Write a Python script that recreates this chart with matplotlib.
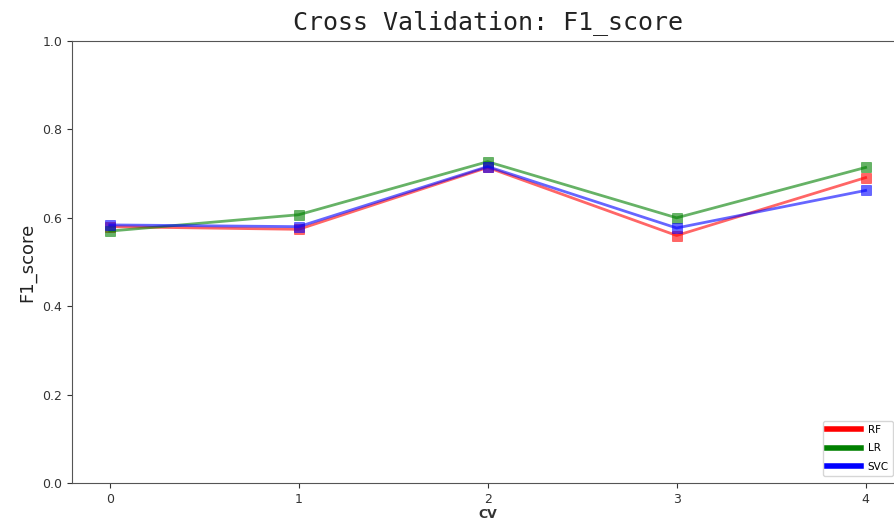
import matplotlib
matplotlib.use("Agg")
import matplotlib.pyplot as plt

folds = [0, 1, 2, 3, 4]
rf_scores = [0.580, 0.574, 0.714, 0.560, 0.691]
lr_scores = [0.570, 0.607, 0.727, 0.600, 0.714]
svc_scores = [0.584, 0.580, 0.716, 0.577, 0.662]

fig = plt.figure(figsize=(8.94, 5.23), dpi=100)
ax = fig.add_axes([0.0805, 0.0765, 0.93, 0.845])

for scores, color, name in [(rf_scores, "red", "RF"),
                            (lr_scores, "green", "LR"),
                            (svc_scores, "blue", "SVC")]:
    ax.plot(folds, scores, color=color, alpha=0.6, linewidth=2,
            marker="s", markersize=6.5, markeredgewidth=0.5,
            markerfacecolor=color, label=name)

ax.set_ylim(0, 1.0)
ax.set_xticks(folds)
ax.set_yticks([0.0, 0.2, 0.4, 0.6, 0.8, 1.0])
ax.tick_params(labelsize=9, colors="#333333")
for side in ax.spines.values():
    side.set_color("#555555")

ax.set_title("Cross Validation: F1_score", fontsize=18,
             family="DejaVu Sans Mono", color="#222222", pad=9)
ax.set_ylabel("F1_score", fontsize=13, color="#222222")
ax.set_xlabel("CV", fontsize=9, fontweight="bold", color="#333333", labelpad=2)

leg = ax.legend(loc="lower right", bbox_to_anchor=(0.9875, 0.016),
                borderaxespad=0, fontsize=7.5, handlelength=3.3,
                labelspacing=0.8, handletextpad=0.6)
for line in leg.get_lines():
    line.set_linewidth(4)
    line.set_alpha(1)
    line.set_marker("")

fig.savefig("out.png", dpi=100)
